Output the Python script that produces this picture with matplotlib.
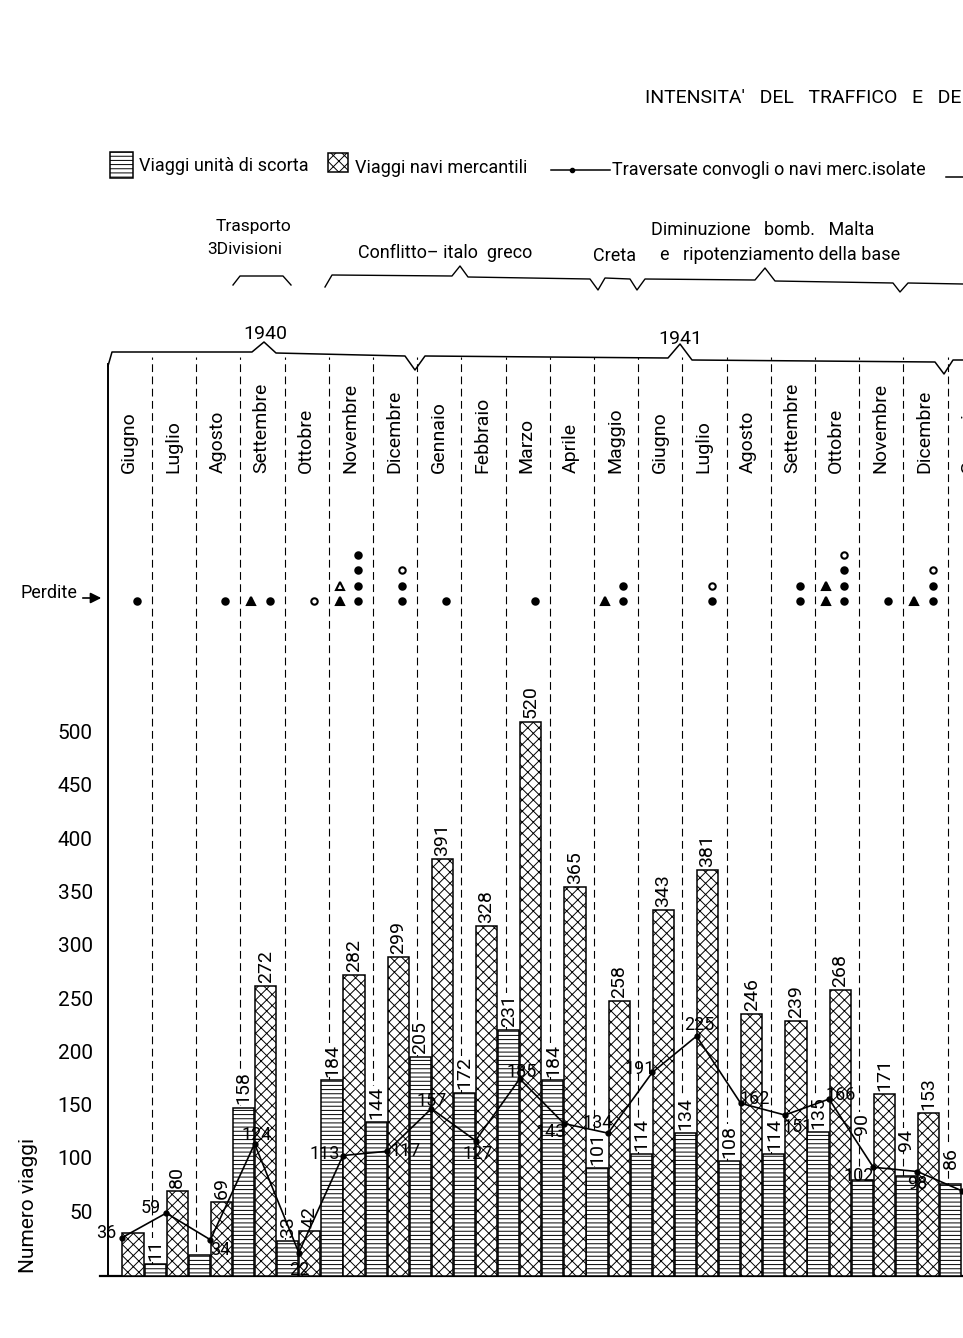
import numpy as np
import matplotlib
matplotlib.use("Agg")
import matplotlib.pyplot as plt
from matplotlib import font_manager
from matplotlib.patches import Rectangle

# dati (giugno 1940 - gennaio 1942)
mesi = ["Giugno", "Luglio", "Agosto", "Settembre", "Ottobre", "Novembre", "Dicembre",
        "Gennaio", "Febbraio", "Marzo", "Aprile", "Maggio", "Giugno", "Luglio",
        "Agosto", "Settembre", "Ottobre", "Novembre", "Dicembre", "Gennaio"]
scorta = [0, 11, 20, 158, 33, 184, 144, 205, 172, 231, 184, 101, 114, 134, 108, 114, 135, 90, 94, 86]
mercantili = [40, 80, 69, 272, 42, 282, 299, 391, 328, 520, 365, 258, 343, 381, 246, 239, 268, 171, 153]
traversate = [36, 59, 34, 124, 22, 113, 117, 157, 127, 185, 143, 134, 191, 225, 162, 151, 166, 102, 98, 80]
scorta_senza_num = [0, 2]
merc_senza_num = [0]
yticks = [50, 100, 150, 200, 250, 300, 350, 400, 450, 500]

# perdite: mese, colonna sinistra (triangoli) e destra (cerchi), dal basso verso l'alto
# c = cerchio pieno, o = cerchio vuoto, T = triangolo pieno, t = triangolo vuoto
perdite_mesi = [0, 2, 3, 4, 5, 6, 7, 9, 11, 13, 15, 16, 17, 18]
perdite_sx = ["", "", "T", "", "Tt", "", "", "", "T", "", "", "TT", "", "T"]
perdite_dx = ["c", "c", "c", "o", "cccc", "cco", "c", "c", "cc", "co", "cc", "ccco", "c", "cco"]

# posizione delle etichette della spezzata (pixel, rispetto al punto)
off_trav = [(-16, 5), (-15, 5), (10, -10), (2, 9), (0, -17), (-18, 2), (18, 0), (0, 8),
            (2, -13), (2, 7), (-13, -8), (-10, 10), (-13, 3), (3, 11), (14, 4), (13, -12),
            (12, 4), (-15, -9), (0, -12)]
# etichette delle barre di scorta spostate in alto (pixel)
alza_scorta = {17: 42, 18: 22, 19: 12}

nomi = {f.name for f in font_manager.fontManager.ttflist}
font = "Liberation Sans Narrow" if "Liberation Sans Narrow" in nomi else "Roboto"
plt.rcParams["font.family"] = [font, "DejaVu Sans"]
plt.rcParams["hatch.linewidth"] = 0.7

W, H = 963, 1338
Y0, K = 1276, 1.066          # pixel della linea di base, pixel per viaggio
fig = plt.figure(figsize=(W / 100, H / 100), dpi=100)

# pagina in coordinate pixel per la parte grafica di contorno
pg = fig.add_axes([0, 0, 1, 1])
pg.set_xlim(0, W)
pg.set_ylim(H, 0)
pg.axis("off")

ax = fig.add_axes([108 / W, (H - Y0) / H, (W - 108) / W, (Y0 - 330) / H])
ax.set_facecolor("none")
ax.set_xlim(-0.317, 19.03)
ax.set_ylim(0, (Y0 - 330) / K)
for s in ax.spines.values():
    s.set_visible(False)
ax.set_xticks([])
ax.set_yticks(yticks)
ax.set_yticklabels([str(v) for v in yticks], fontsize=15)
for t in ax.get_yticklabels():
    t.set_va("bottom")
ax.tick_params(axis="y", length=0, pad=11)
ax.set_ylabel("Numero viaggi", fontsize=15)
ax.yaxis.set_label_coords(-0.082, 0.075)


def vy(py):
    return (Y0 - py) / K


# divisori dei mesi
for k in range(19):
    ax.plot([k + 0.68, k + 0.68], [0, vy(357)], color="black", lw=0.8,
            dashes=(7, 4), zorder=1)

# barre
x = np.arange(len(scorta))
sc = np.array(scorta)
ax.bar(x[sc > 0] - 0.25, sc[sc > 0], width=0.48, facecolor="white", edgecolor="black",
       hatch="----", lw=1.1, zorder=3)
xm = np.arange(len(mercantili))
ax.bar(xm + 0.25, mercantili, width=0.48, facecolor="white", edgecolor="black",
       hatch="xxx", lw=1.1, zorder=3)

for i, v in enumerate(scorta):
    if v > 0 and i not in scorta_senza_num:
        ax.text(i - 0.25, v + 3 + alza_scorta.get(i, 0) / K, str(v), rotation=90,
                ha="center", va="bottom", fontsize=14,
                bbox=dict(fc="white", ec="none", pad=0.5), zorder=4)
for i, v in enumerate(mercantili):
    if i not in merc_senza_num:
        ax.text(i + 0.25, v + 3, str(v), rotation=90, ha="center", va="bottom", fontsize=14,
                bbox=dict(fc="white", ec="none", pad=0.5), zorder=4)

# traversate
xt = np.arange(len(traversate))
ax.plot(xt, traversate, color="black", lw=1.2, marker="o", ms=3.5, zorder=5)
for i, (v, o) in enumerate(zip(traversate, off_trav)):
    ax.annotate(str(v), (i, v), xytext=o, textcoords="offset pixels", ha="center",
                va="center", fontsize=13, zorder=6)

# mesi
for k, m in enumerate(mesi):
    ax.text(k + 0.16, vy(473), m, rotation=90, ha="center", va="bottom", fontsize=14,
            clip_on=False)

# perdite
stili = {"c": ("o", "black", 4.6), "o": ("o", "white", 4.6),
         "T": ("^", "black", 6.2), "t": ("^", "white", 6.2)}
for k, sx, dx in zip(perdite_mesi, perdite_sx, perdite_dx):
    for col, dxk in ((sx, -0.07), (dx, 0.34)):
        for j, c in enumerate(col):
            mk, fc, ms = stili[c]
            ax.plot(k + dxk, vy(601 - 15.5 * j), marker=mk, ms=ms, mfc=fc, mec="black",
                    mew=1.5, zorder=5)
pg.text(20, 593, "Perdite", ha="left", va="center", fontsize=13)
pg.annotate("", xy=(104, 598), xytext=(80, 598),
            arrowprops=dict(arrowstyle="-|>", color="black", lw=1.2, mutation_scale=16))

# assi disegnati a mano come nell'originale
pg.plot([108, 108], [364, Y0], color="black", lw=1.4)
pg.plot([100, W], [Y0, Y0], color="black", lw=1.6)

# intestazione anni
pg.plot([108, 112, 252, 264, 276, 405, 415, 425, 668, 680, 692, 935, 944, 953, W],
        [366, 352, 352, 342, 353, 356, 370, 356, 358, 344, 360, 362, 374, 360, 360],
        color="black", lw=1.1)
pg.text(265, 334, "1940", ha="center", va="center", fontsize=14)
pg.text(680, 339, "1941", ha="center", va="center", fontsize=14)

# titolo e legenda
pg.text(961, 98, "INTENSITA'   DEL   TRAFFICO   E   DE", ha="right", va="center",
        fontsize=14)
pg.add_patch(Rectangle((110, 152), 23, 26, facecolor="white", edgecolor="black",
                       hatch="----", lw=1.1))
pg.text(139, 166, "Viaggi unità di scorta", ha="left", va="center", fontsize=13)
pg.add_patch(Rectangle((328, 153), 20, 19, facecolor="white", edgecolor="black",
                       hatch="xxx", lw=1.1))
pg.text(355, 168, "Viaggi navi mercantili", ha="left", va="center", fontsize=13)
pg.plot([551, 610], [170, 170], color="black", lw=1.1)
pg.plot([572], [170], marker="o", ms=3, color="black")
pg.text(612, 170, "Traversate convogli o navi merc.isolate", ha="left", va="center",
        fontsize=13)
pg.plot([946, W], [177, 177], color="black", lw=1.1)

# periodi
pg.text(253, 226, "Trasporto", ha="center", va="center", fontsize=12.5)
pg.text(245, 250, "3Divisioni", ha="center", va="center", fontsize=12.5)
pg.plot([233, 240, 283, 291], [285, 276, 276, 285], color="black", lw=1.0)
pg.text(445, 253, "Conflitto– italo  greco", ha="center", va="center", fontsize=13)
pg.text(615, 256, "Creta", ha="center", va="center", fontsize=13)
pg.text(763, 230, "Diminuzione   bomb.   Malta", ha="center", va="center", fontsize=13)
pg.text(780, 255, "e   ripotenziamento della base", ha="center", va="center", fontsize=13)
pg.plot([325, 332, 452, 460, 468, 590, 598, 605, 630, 637, 645, 755, 765, 775, 893, 900, 908, W],
        [287, 275, 276, 266, 277, 279, 290, 278, 279, 290, 279, 280, 268, 281, 283, 292, 283, 284],
        color="black", lw=1.0)

fig.savefig("out.png", dpi=100, facecolor="white")
